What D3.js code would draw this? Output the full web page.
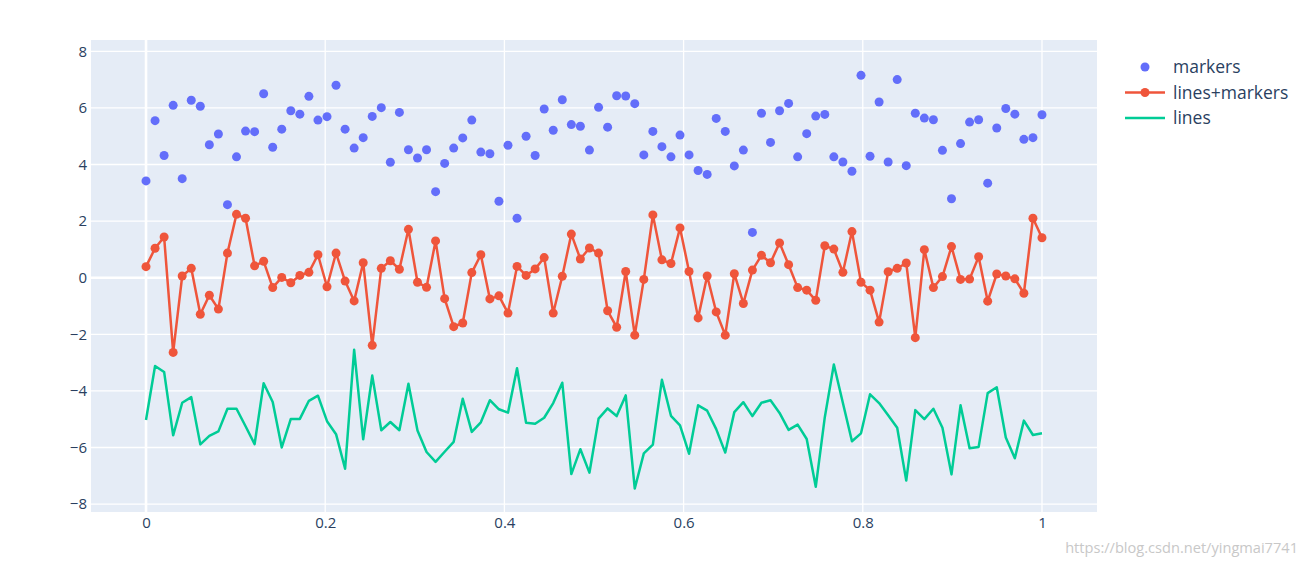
<!DOCTYPE html>
<html>
<head>
<meta charset="utf-8">
<script src="https://cdn.jsdelivr.net/npm/d3@7"></script>
<style>
  body { margin: 0; background: #ffffff; }
  text { font-family: "Open Sans", sans-serif; }
</style>
</head>
<body>
<div id="my_chart"></div>
<script>
// x positions (0..1, 100 points)
var xs = [
    0, 0.0101, 0.0202, 0.0303, 0.0404, 0.0505, 0.0606, 0.0707, 0.0808, 0.0909,
    0.1010, 0.1111, 0.1212, 0.1313, 0.1414, 0.1515, 0.1616, 0.1717, 0.1818, 0.1919,
    0.2020, 0.2121, 0.2222, 0.2323, 0.2424, 0.2525, 0.2626, 0.2727, 0.2828, 0.2929,
    0.3030, 0.3131, 0.3232, 0.3333, 0.3434, 0.3535, 0.3636, 0.3737, 0.3838, 0.3939,
    0.4040, 0.4141, 0.4242, 0.4343, 0.4444, 0.4545, 0.4646, 0.4747, 0.4848, 0.4949,
    0.5051, 0.5152, 0.5253, 0.5354, 0.5455, 0.5556, 0.5657, 0.5758, 0.5859, 0.5960,
    0.6061, 0.6162, 0.6263, 0.6364, 0.6465, 0.6566, 0.6667, 0.6768, 0.6869, 0.6970,
    0.7071, 0.7172, 0.7273, 0.7374, 0.7475, 0.7576, 0.7677, 0.7778, 0.7879, 0.7980,
    0.8081, 0.8182, 0.8283, 0.8384, 0.8485, 0.8586, 0.8687, 0.8788, 0.8889, 0.8990,
    0.9091, 0.9192, 0.9293, 0.9394, 0.9495, 0.9596, 0.9697, 0.9798, 0.9899, 1
];

var markersY = [
    3.42, 5.55, 4.32, 6.09, 3.50, 6.27, 6.06, 4.70, 5.08, 2.58, 4.27, 5.18, 5.16, 6.50, 4.61, 5.25, 5.90, 5.78, 6.41, 5.57,
    5.69, 6.80, 5.25, 4.58, 4.95, 5.70, 6.01, 4.08, 5.84, 4.52, 4.23, 4.52, 3.04, 4.04, 4.58, 4.94, 5.57, 4.44, 4.38, 2.70,
    4.68, 2.10, 5.00, 4.32, 5.96, 5.21, 6.29, 5.41, 5.35, 4.51, 6.02, 5.32, 6.43, 6.42, 6.15, 4.34, 5.17, 4.63, 4.27, 5.04,
    4.34, 3.79, 3.65, 5.63, 5.17, 3.95, 4.51, 1.60, 5.81, 4.78, 5.90, 6.16, 4.27, 5.09, 5.71, 5.77, 4.27, 4.09, 3.76, 7.15,
    4.29, 6.21, 4.09, 7.00, 3.96, 5.81, 5.64, 5.58, 4.50, 2.79, 4.74, 5.50, 5.58, 3.34, 5.29, 5.98, 5.78, 4.89, 4.95, 5.76
];

var linesMarkersY = [
    0.39, 1.04, 1.44, -2.64, 0.06, 0.33, -1.29, -0.62, -1.11, 0.87, 2.24, 2.10, 0.42, 0.58, -0.35, 0.01, -0.18, 0.08, 0.19, 0.81,
    -0.32, 0.87, -0.12, -0.82, 0.53, -2.39, 0.33, 0.60, 0.30, 1.71, -0.16, -0.34, 1.30, -0.74, -1.73, -1.60, 0.18, 0.81, -0.75, -0.64,
    -1.25, 0.40, 0.08, 0.31, 0.71, -1.25, 0.05, 1.54, 0.66, 1.05, 0.87, -1.17, -1.75, 0.22, -2.03, -0.06, 2.22, 0.63, 0.50, 1.76,
    0.22, -1.42, 0.06, -1.21, -2.03, 0.14, -0.91, 0.27, 0.79, 0.53, 1.23, 0.46, -0.35, -0.44, -0.80, 1.13, 1.01, 0.19, 1.63, -0.16,
    -0.44, -1.57, 0.21, 0.33, 0.52, -2.12, 0.99, -0.35, 0.04, 1.10, -0.06, -0.05, 0.74, -0.83, 0.13, 0.06, -0.04, -0.55, 2.10, 1.41
];

var linesY = [
    -5.03, -3.12, -3.33, -5.57, -4.42, -4.22, -5.89, -5.59, -5.43, -4.63, -4.63, -5.25, -5.88, -3.73, -4.39, -6.00, -4.99, -4.99, -4.35, -4.17,
    -5.07, -5.53, -6.75, -2.55, -5.71, -3.46, -5.39, -5.10, -5.39, -3.75, -5.40, -6.16, -6.51, -6.15, -5.80, -4.28, -5.45, -5.11, -4.33, -4.65,
    -4.77, -3.20, -5.13, -5.16, -4.95, -4.43, -3.71, -6.94, -6.06, -6.89, -4.98, -4.62, -4.89, -4.16, -7.45, -6.21, -5.90, -3.61, -4.88, -5.22,
    -6.22, -4.51, -4.70, -5.35, -6.18, -4.75, -4.40, -4.89, -4.42, -4.33, -4.78, -5.38, -5.19, -5.70, -7.39, -4.93, -3.07, -4.43, -5.78, -5.50,
    -4.12, -4.43, -4.86, -5.30, -7.17, -4.68, -5.00, -4.63, -5.30, -6.95, -4.51, -6.03, -5.98, -4.08, -3.87, -5.65, -6.38, -5.05, -5.56, -5.50
];

var xTicks = [0, 0.2, 0.4, 0.6, 0.8, 1];
var yTicks = [-8, -6, -4, -2, 0, 2, 4, 6, 8];
var seriesNames = ["markers", "lines+markers", "lines"];
var seriesColors = ["#636efa", "#EF553B", "#00cc96"];

var width = 1306, height = 566;
var plot = {left: 91, right: 1097, top: 40, bottom: 512};

var svg = d3.select("#my_chart")
    .append("svg")
    .attr("width", width)
    .attr("height", height);

var x = d3.scaleLinear()
    .domain([-0.0614, 1.0614])
    .range([plot.left, plot.right]);

var y = d3.scaleLinear()
    .domain([-8.28, 8.40])
    .range([plot.bottom, plot.top]);

// background
svg.append("rect")
    .attr("x", plot.left)
    .attr("y", plot.top)
    .attr("width", plot.right - plot.left)
    .attr("height", plot.bottom - plot.top)
    .style("fill", "#E5ECF6");

// grid lines
svg.append("g")
    .selectAll("line")
    .data(xTicks)
    .enter()
    .append("line")
    .attr("x1", function(d) { return x(d); })
    .attr("x2", function(d) { return x(d); })
    .attr("y1", plot.top)
    .attr("y2", plot.bottom)
    .style("stroke", "#ffffff")
    .style("stroke-width", function(d) { return d === 0 ? 2.6 : 1.3; });

svg.append("g")
    .selectAll("line")
    .data(yTicks)
    .enter()
    .append("line")
    .attr("x1", plot.left)
    .attr("x2", plot.right)
    .attr("y1", function(d) { return y(d); })
    .attr("y2", function(d) { return y(d); })
    .style("stroke", "#ffffff")
    .style("stroke-width", function(d) { return d === 0 ? 2.6 : 1.3; });

// axes (labels only)
var minus = function(d) { return d3.format("")(d).replace("-", "\u2212"); };

var xAxis = svg.append("g")
    .attr("transform", "translate(0," + plot.bottom + ")")
    .call(d3.axisBottom(x).tickValues(xTicks).tickSize(0).tickPadding(5).tickFormat(minus));
xAxis.select(".domain").remove();

var yAxis = svg.append("g")
    .attr("transform", "translate(" + plot.left + ",0)")
    .call(d3.axisLeft(y).tickValues(yTicks).tickSize(0).tickPadding(4).tickFormat(minus));
yAxis.select(".domain").remove();

svg.selectAll(".tick text")
    .style("font-family", "'Open Sans', sans-serif")
    .style("font-size", "15px")
    .style("fill", "#2a3f5f");

// traces
var line = d3.line()
    .x(function(d) { return x(d[0]); })
    .y(function(d) { return y(d[1]); });

var lmData = xs.map(function(v, i) { return [v, linesMarkersY[i]]; });
var lData = xs.map(function(v, i) { return [v, linesY[i]]; });
var mData = xs.map(function(v, i) { return [v, markersY[i]]; });

svg.append("g")
    .selectAll("circle")
    .data(mData)
    .enter()
    .append("circle")
    .attr("cx", function(d) { return x(d[0]); })
    .attr("cy", function(d) { return y(d[1]); })
    .attr("r", 4.5)
    .style("fill", seriesColors[0]);

svg.append("path")
    .datum(lmData)
    .attr("d", line)
    .style("fill", "none")
    .style("stroke", seriesColors[1])
    .style("stroke-width", 2.5)
    .style("stroke-linejoin", "round");

svg.append("g")
    .selectAll("circle")
    .data(lmData)
    .enter()
    .append("circle")
    .attr("cx", function(d) { return x(d[0]); })
    .attr("cy", function(d) { return y(d[1]); })
    .attr("r", 4.5)
    .style("fill", seriesColors[1]);

svg.append("path")
    .datum(lData)
    .attr("d", line)
    .style("fill", "none")
    .style("stroke", seriesColors[2])
    .style("stroke-width", 2.5)
    .style("stroke-linejoin", "round");

// legend
var legend = svg.append("g")
    .attr("transform", "translate(1125,67)");

var items = legend.selectAll("g")
    .data(seriesNames)
    .enter()
    .append("g")
    .attr("transform", function(d, i) { return "translate(0," + (i * 25.5) + ")"; });

items.filter(function(d, i) { return i > 0; })
    .append("line")
    .attr("x1", 0)
    .attr("x2", 40)
    .style("stroke", function(d) { return seriesColors[seriesNames.indexOf(d)]; })
    .style("stroke-width", 2.5);

items.filter(function(d, i) { return i < 2; })
    .append("circle")
    .attr("cx", 20)
    .attr("r", 4.5)
    .style("fill", function(d) { return seriesColors[seriesNames.indexOf(d)]; });

items.append("text")
    .attr("x", 48)
    .attr("dy", "0.35em")
    .style("font-size", "17.5px")
    .style("fill", "#2a3f5f")
    .text(function(d) { return d; });

// watermark
svg.append("text")
    .attr("x", 1298)
    .attr("y", 553)
    .attr("text-anchor", "end")
    .style("font-size", "14.6px")
    .style("fill", "#c8c8c8")
    .text("https://blog.csdn.net/yingmai7741");
</script>
</body>
</html>
